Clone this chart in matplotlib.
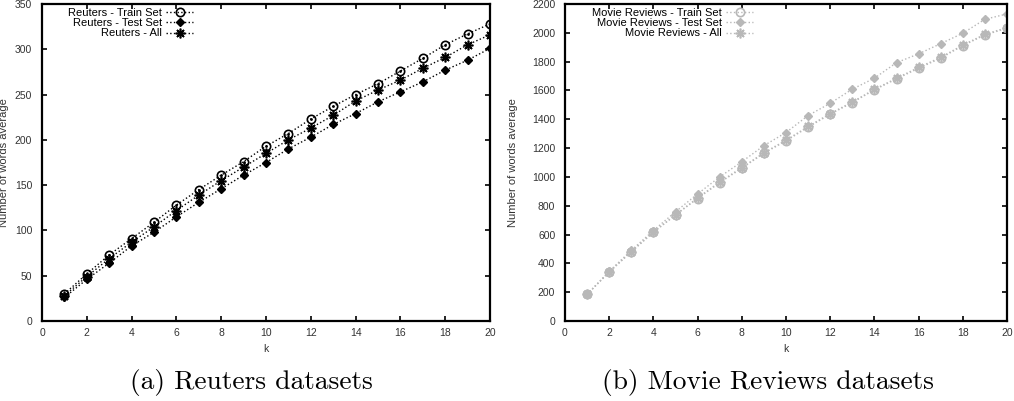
import matplotlib.pyplot as plt

k = list(range(1, 21))

# Reuters
reuters_train = [30, 52, 73, 91, 109, 128, 145, 161, 176, 193, 207, 223, 237, 250, 262, 276, 290, 305, 317, 328]
reuters_test = [26, 46, 64, 83, 98, 115, 131, 146, 161, 175, 190, 203, 217, 229, 242, 253, 264, 277, 288, 301]
reuters_all = [28, 49, 69, 87, 104, 122, 139, 155, 170, 185, 200, 213, 227, 243, 255, 266, 279, 291, 305, 316]

# Movie Reviews
movie_train = [185, 340, 480, 615, 735, 850, 960, 1060, 1164, 1250, 1345, 1435, 1516, 1604, 1680, 1754, 1824, 1911, 1985, 2032]
movie_test = [185, 345, 490, 628, 758, 882, 1000, 1105, 1217, 1308, 1426, 1511, 1609, 1685, 1793, 1854, 1925, 1997, 2094, 2131]
movie_all = [185, 340, 482, 618, 738, 855, 965, 1065, 1168, 1255, 1350, 1440, 1520, 1608, 1685, 1760, 1830, 1915, 1990, 2036]

plt.rcParams["font.family"] = ["Liberation Sans", "DejaVu Sans"]

fig = plt.figure(figsize=(10.14, 4.01), dpi=100)
W, H = 1014.0, 401.0
ax1 = fig.add_axes([42 / W, 1 - 321 / H, (490 - 42) / W, (321 - 4) / H])
ax2 = fig.add_axes([565 / W, 1 - 321 / H, (1007 - 565) / W, (321 - 4) / H])


def draw(ax, train, test, allv, name, color, ymax, ystep, leg_x, ylab_x):
    ax.plot(k, train, linestyle=":", color=color, lw=1, marker="o", ms=6,
            mfc="none", mec=color, mew=1.2, label=name + " - Train Set")
    ax.plot(k, test, linestyle=":", color=color, lw=1, marker="D", ms=4.5,
            mfc=color, mec=color, label=name + " - Test Set")
    ax.plot(k, allv, linestyle=":", color=color, lw=1, marker=(8, 2, 0), ms=7,
            mec=color, mew=1.2, label=name + " - All")
    # centre dot of the circle markers
    ax.plot(k, train, linestyle="none", color=color, marker=".", ms=2)
    ax.set_xlim(0, 20)
    ax.set_ylim(0, ymax)
    ax.set_xticks(range(0, 21, 2))
    ax.set_yticks(range(0, ymax + 1, ystep))
    ax.tick_params(direction="in", top=True, right=True, labelsize=7.5,
                   labelcolor="#333333", length=3.5, width=1.2)
    ax.tick_params(axis="y", pad=7)
    ax.tick_params(axis="x", pad=5)
    for s in ax.spines.values():
        s.set_linewidth(1.6)
    ax.set_xlabel("k", fontsize=7.5, color="#333333", labelpad=4)
    ax.set_ylabel("Number of words average", fontsize=8, color="#333333")
    ax.yaxis.set_label_coords(ylab_x, 0.5)
    ax.legend(loc="upper right", bbox_to_anchor=(leg_x, 0.988), markerfirst=False,
              frameon=False, fontsize=8, handlelength=2.4, handletextpad=0.4,
              labelspacing=0.03, borderpad=0.0, borderaxespad=0.0)


draw(ax1, reuters_train, reuters_test, reuters_all, "Reuters", "black", 350, 50,
     (193 - 42) / 448, (9 - 42) / 448)
draw(ax2, movie_train, movie_test, movie_all, "Movie Reviews", "#b8b8b8", 2200, 200,
     (753 - 565) / 442, (518 - 565) / 442)

fig.text(251 / W, 1 - 383 / H, "(a) Reuters datasets", family="cmr10", fontsize=19.8,
         ha="center", va="center")
fig.text(768 / W, 1 - 383 / H, "(b) Movie Reviews datasets", family="cmr10", fontsize=19.8,
         ha="center", va="center")

fig.savefig("out.png", dpi=100)
